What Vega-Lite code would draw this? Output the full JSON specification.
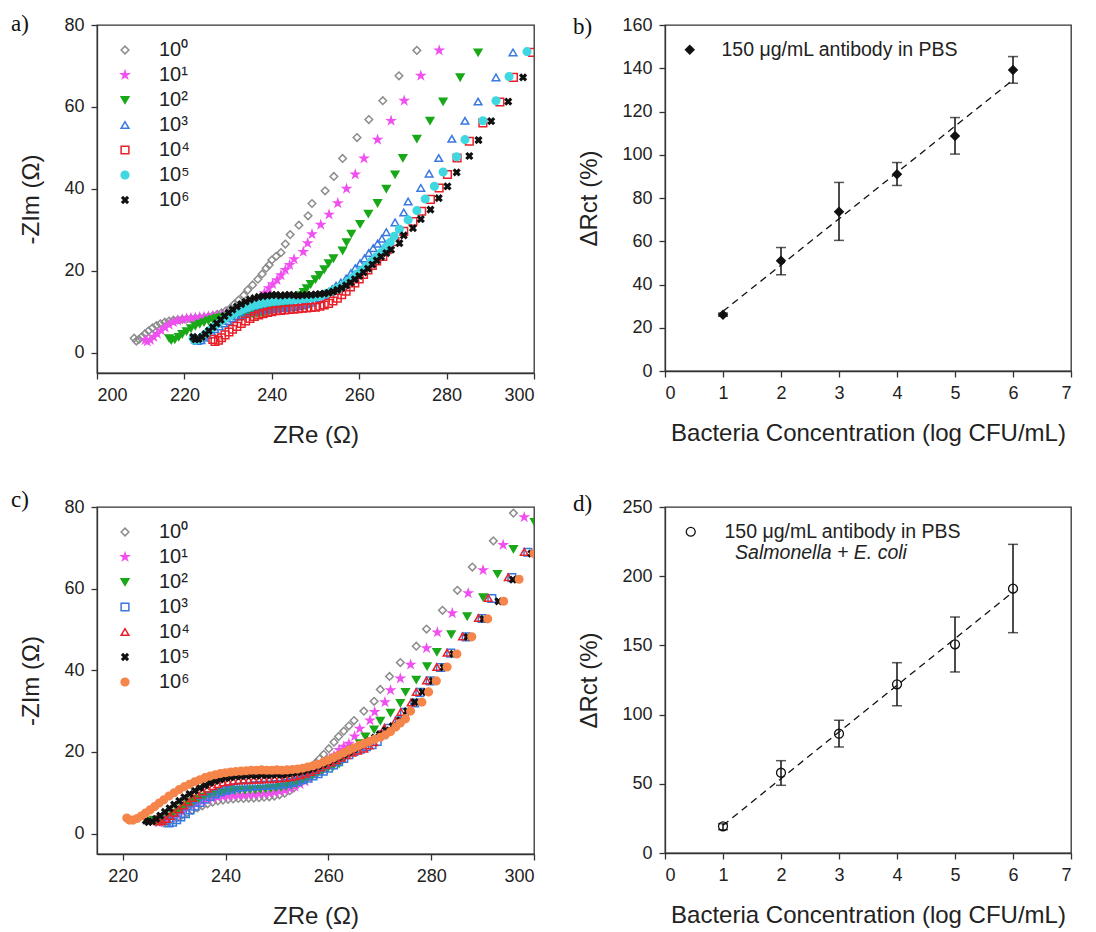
{
"$schema": "https://vega.github.io/schema/vega-lite/v6.json",
"padding": {"left": 10, "top": 12, "right": 5, "bottom": 5},
"config": {
  "font": "Liberation Sans",
  "view": {"stroke": "#333", "strokeWidth": 1.3},
  "axis": {"grid": false, "domainColor": "#333", "domainWidth": 1.3, "tickColor": "#333", "tickWidth": 1.3, "tickSize": 6, "labelColor": "#222", "titleColor": "#222", "labelFont": "Liberation Sans", "titleFont": "Liberation Sans", "labelFontSize": 18, "titleFontSize": 24, "titleFontWeight": "normal", "labelPadding": 7},
  "axisX": {"titlePadding": 19},
  "axisY": {"titlePadding": 20},
  "legend": {"labelFont": "Liberation Sans", "labelColor": "#222", "titleFont": "Liberation Sans", "labelLimit": 0},
  "title": {"font": "Liberation Serif", "fontSize": 23, "fontWeight": "normal", "anchor": "start", "frame": "group", "color": "#111"}
},
"datasets": {
"A": [
{"s":"10⁰","re":208.5,"im":3.5},{"s":"10⁰","re":209,"im":2.8},{"s":"10⁰","re":209.6,"im":3.2},{"s":"10⁰","re":210.3,"im":3.9},{"s":"10⁰","re":211,"im":4.6},{"s":"10⁰","re":211.8,"im":5.3},{"s":"10⁰","re":212.7,"im":6},{"s":"10⁰","re":213.6,"im":6.6},{"s":"10⁰","re":214.5,"im":7},{"s":"10⁰","re":215.5,"im":7.4},{"s":"10⁰","re":216.5,"im":7.7},{"s":"10⁰","re":217.5,"im":7.9},{"s":"10⁰","re":218.5,"im":8},{"s":"10⁰","re":219.5,"im":8.1},{"s":"10⁰","re":220.5,"im":8.2},{"s":"10⁰","re":221.5,"im":8.3},{"s":"10⁰","re":222.5,"im":8.4},{"s":"10⁰","re":223.5,"im":8.5},{"s":"10⁰","re":224.5,"im":8.6},{"s":"10⁰","re":225.5,"im":8.8},{"s":"10⁰","re":226.5,"im":9},{"s":"10⁰","re":227.5,"im":9.3},{"s":"10⁰","re":228.5,"im":9.7},{"s":"10⁰","re":229.5,"im":10.2},{"s":"10⁰","re":230.5,"im":10.8},{"s":"10⁰","re":231.4,"im":11.8},{"s":"10⁰","re":232.4,"im":12.8},{"s":"10⁰","re":233.6,"im":14},{"s":"10⁰","re":234.5,"im":15.3},{"s":"10⁰","re":235.6,"im":16.5},{"s":"10⁰","re":236.8,"im":17.9},{"s":"10⁰","re":237.8,"im":19.2},{"s":"10⁰","re":238.7,"im":20.6},{"s":"10⁰","re":239.4,"im":21.4},{"s":"10⁰","re":240,"im":22.6},{"s":"10⁰","re":241,"im":23.5},{"s":"10⁰","re":242.1,"im":24.4},{"s":"10⁰","re":243.1,"im":26.5},{"s":"10⁰","re":244.2,"im":28.8},{"s":"10⁰","re":246.2,"im":31.1},{"s":"10⁰","re":248.3,"im":33.4},{"s":"10⁰","re":249.2,"im":36.4},{"s":"10⁰","re":252.2,"im":39.5},{"s":"10⁰","re":254.2,"im":43},{"s":"10⁰","re":256.2,"im":47.4},{"s":"10⁰","re":259.5,"im":52.5},{"s":"10⁰","re":262.2,"im":56.9},{"s":"10⁰","re":265.4,"im":61.5},{"s":"10⁰","re":269.1,"im":67.6},{"s":"10⁰","re":273.2,"im":73.8},
{"s":"10¹","re":211,"im":3},{"s":"10¹","re":211.5,"im":2.7},{"s":"10¹","re":212.2,"im":3.1},{"s":"10¹","re":213,"im":3.8},{"s":"10¹","re":213.8,"im":4.6},{"s":"10¹","re":214.7,"im":5.4},{"s":"10¹","re":215.6,"im":6.1},{"s":"10¹","re":216.5,"im":6.8},{"s":"10¹","re":217.5,"im":7.4},{"s":"10¹","re":218.5,"im":7.8},{"s":"10¹","re":219.5,"im":8.1},{"s":"10¹","re":220.5,"im":8.3},{"s":"10¹","re":221.5,"im":8.4},{"s":"10¹","re":222.5,"im":8.5},{"s":"10¹","re":223.5,"im":8.6},{"s":"10¹","re":224.5,"im":8.7},{"s":"10¹","re":225.5,"im":8.8},{"s":"10¹","re":226.5,"im":8.9},{"s":"10¹","re":227.5,"im":9},{"s":"10¹","re":228.5,"im":9.2},{"s":"10¹","re":229.5,"im":9.4},{"s":"10¹","re":230.5,"im":9.6},{"s":"10¹","re":231.5,"im":9.9},{"s":"10¹","re":232.5,"im":10.2},{"s":"10¹","re":233.5,"im":10.5},{"s":"10¹","re":234.8,"im":10.8},{"s":"10¹","re":236,"im":11.2},{"s":"10¹","re":237.1,"im":12.8},{"s":"10¹","re":238.3,"im":14.5},{"s":"10¹","re":239.3,"im":15.7},{"s":"10¹","re":240.2,"im":16.7},{"s":"10¹","re":241.2,"im":17.7},{"s":"10¹","re":242.1,"im":18.9},{"s":"10¹","re":243.1,"im":20.2},{"s":"10¹","re":244.1,"im":21.4},{"s":"10¹","re":245.1,"im":22.8},{"s":"10¹","re":247.2,"im":24.6},{"s":"10¹","re":248.2,"im":26.7},{"s":"10¹","re":249.2,"im":28.9},{"s":"10¹","re":251.2,"im":31.2},{"s":"10¹","re":253.1,"im":33.7},{"s":"10¹","re":255.1,"im":36.5},{"s":"10¹","re":257.1,"im":40},{"s":"10¹","re":259.1,"im":43.5},{"s":"10¹","re":261.1,"im":47.4},{"s":"10¹","re":264.2,"im":52},{"s":"10¹","re":267.3,"im":56.6},{"s":"10¹","re":270.3,"im":61.5},{"s":"10¹","re":274.1,"im":67.6},{"s":"10¹","re":278.3,"im":73.8},
{"s":"10²","re":216.5,"im":3.5},{"s":"10²","re":217,"im":3},{"s":"10²","re":217.8,"im":3.2},{"s":"10²","re":218.7,"im":3.8},{"s":"10²","re":219.5,"im":4.5},{"s":"10²","re":220.5,"im":5.2},{"s":"10²","re":221.5,"im":5.9},{"s":"10²","re":222.5,"im":6.5},{"s":"10²","re":223.5,"im":7},{"s":"10²","re":224.5,"im":7.4},{"s":"10²","re":225.5,"im":7.8},{"s":"10²","re":226.5,"im":8.1},{"s":"10²","re":227.5,"im":8.4},{"s":"10²","re":228.5,"im":8.6},{"s":"10²","re":229.5,"im":8.8},{"s":"10²","re":230.5,"im":9},{"s":"10²","re":231.5,"im":9.1},{"s":"10²","re":232.5,"im":9.2},{"s":"10²","re":233.5,"im":9.3},{"s":"10²","re":234.5,"im":9.4},{"s":"10²","re":235.5,"im":9.5},{"s":"10²","re":236.5,"im":9.6},{"s":"10²","re":237.5,"im":9.8},{"s":"10²","re":238.5,"im":10},{"s":"10²","re":239.5,"im":10.3},{"s":"10²","re":240.5,"im":10.6},{"s":"10²","re":241.5,"im":11},{"s":"10²","re":242.5,"im":11.4},{"s":"10²","re":243.5,"im":11.9},{"s":"10²","re":244.5,"im":12.5},{"s":"10²","re":245.5,"im":13.2},{"s":"10²","re":246.5,"im":14},{"s":"10²","re":247.3,"im":14.8},{"s":"10²","re":248,"im":15.7},{"s":"10²","re":248.9,"im":16.7},{"s":"10²","re":250,"im":17.9},{"s":"10²","re":250.9,"im":18.9},{"s":"10²","re":252,"im":20.3},{"s":"10²","re":253,"im":21.8},{"s":"10²","re":254.1,"im":23},{"s":"10²","re":256.2,"im":24.9},{"s":"10²","re":257.1,"im":26.9},{"s":"10²","re":258.2,"im":29},{"s":"10²","re":260.2,"im":31.4},{"s":"10²","re":262.1,"im":33.9},{"s":"10²","re":264.2,"im":36.5},{"s":"10²","re":266.2,"im":40},{"s":"10²","re":268.2,"im":43.5},{"s":"10²","re":270,"im":47.5},{"s":"10²","re":273.2,"im":52.2},{"s":"10²","re":276.2,"im":56.6},{"s":"10²","re":279.2,"im":61.3},{"s":"10²","re":283.1,"im":67.2},{"s":"10²","re":287.2,"im":73.3},
{"s":"10³","re":222.5,"im":3.2},{"s":"10³","re":223,"im":2.8},{"s":"10³","re":223.8,"im":3},{"s":"10³","re":224.5,"im":3.6},{"s":"10³","re":225.3,"im":4.3},{"s":"10³","re":226.2,"im":5},{"s":"10³","re":227,"im":5.7},{"s":"10³","re":228,"im":6.4},{"s":"10³","re":229,"im":7.1},{"s":"10³","re":230,"im":7.7},{"s":"10³","re":231,"im":8.3},{"s":"10³","re":232,"im":8.8},{"s":"10³","re":233,"im":9.2},{"s":"10³","re":234,"im":9.6},{"s":"10³","re":235,"im":9.9},{"s":"10³","re":236,"im":10.1},{"s":"10³","re":237,"im":10.3},{"s":"10³","re":238,"im":10.4},{"s":"10³","re":239,"im":10.5},{"s":"10³","re":240,"im":10.6},{"s":"10³","re":241,"im":10.7},{"s":"10³","re":242,"im":10.8},{"s":"10³","re":243,"im":10.9},{"s":"10³","re":244,"im":11},{"s":"10³","re":245,"im":11.1},{"s":"10³","re":246,"im":11.3},{"s":"10³","re":247,"im":11.5},{"s":"10³","re":248,"im":11.8},{"s":"10³","re":249,"im":12.2},{"s":"10³","re":250,"im":12.7},{"s":"10³","re":251,"im":13.3},{"s":"10³","re":252,"im":14},{"s":"10³","re":253,"im":14.8},{"s":"10³","re":253.8,"im":15.5},{"s":"10³","re":254.7,"im":16.3},{"s":"10³","re":255.8,"im":17.1},{"s":"10³","re":257,"im":18.1},{"s":"10³","re":258.1,"im":19.4},{"s":"10³","re":259.1,"im":20.6},{"s":"10³","re":260.2,"im":21.8},{"s":"10³","re":261.2,"im":23},{"s":"10³","re":262.2,"im":24.3},{"s":"10³","re":263.2,"im":25.5},{"s":"10³","re":264.2,"im":26.6},{"s":"10³","re":265.2,"im":27.8},{"s":"10³","re":266.2,"im":29.4},{"s":"10³","re":268.2,"im":31.8},{"s":"10³","re":270.2,"im":34.2},{"s":"10³","re":271.2,"im":36.9},{"s":"10³","re":274.1,"im":40.2},{"s":"10³","re":276,"im":43.7},{"s":"10³","re":278.2,"im":47.5},{"s":"10³","re":281.2,"im":52.2},{"s":"10³","re":284.2,"im":56.6},{"s":"10³","re":287.2,"im":61.3},{"s":"10³","re":291.3,"im":67.2},{"s":"10³","re":295.2,"im":73.3},
{"s":"10⁴","re":226.5,"im":3.2},{"s":"10⁴","re":227,"im":2.7},{"s":"10⁴","re":227.8,"im":3},{"s":"10⁴","re":228.5,"im":3.6},{"s":"10⁴","re":229.3,"im":4.3},{"s":"10⁴","re":230.2,"im":5},{"s":"10⁴","re":231,"im":5.7},{"s":"10⁴","re":232,"im":6.4},{"s":"10⁴","re":233,"im":7.1},{"s":"10⁴","re":234,"im":7.7},{"s":"10⁴","re":235,"im":8.3},{"s":"10⁴","re":236,"im":8.8},{"s":"10⁴","re":237,"im":9.2},{"s":"10⁴","re":238,"im":9.5},{"s":"10⁴","re":239,"im":9.8},{"s":"10⁴","re":240,"im":10},{"s":"10⁴","re":241,"im":10.2},{"s":"10⁴","re":242,"im":10.3},{"s":"10⁴","re":243,"im":10.4},{"s":"10⁴","re":244,"im":10.5},{"s":"10⁴","re":245,"im":10.6},{"s":"10⁴","re":246,"im":10.7},{"s":"10⁴","re":247,"im":10.8},{"s":"10⁴","re":248,"im":10.9},{"s":"10⁴","re":249,"im":11},{"s":"10⁴","re":250,"im":11.1},{"s":"10⁴","re":251,"im":11.3},{"s":"10⁴","re":252,"im":11.6},{"s":"10⁴","re":253,"im":12},{"s":"10⁴","re":254,"im":12.6},{"s":"10⁴","re":255,"im":13.3},{"s":"10⁴","re":256,"im":14.1},{"s":"10⁴","re":257,"im":15},{"s":"10⁴","re":258,"im":16},{"s":"10⁴","re":259,"im":17},{"s":"10⁴","re":260,"im":18},{"s":"10⁴","re":261,"im":19.1},{"s":"10⁴","re":262,"im":20.2},{"s":"10⁴","re":263,"im":21.3},{"s":"10⁴","re":264,"im":22.4},{"s":"10⁴","re":265.4,"im":23.5},{"s":"10⁴","re":266.4,"im":25.1},{"s":"10⁴","re":268.2,"im":27.1},{"s":"10⁴","re":270.2,"im":29.6},{"s":"10⁴","re":272.3,"im":32},{"s":"10⁴","re":274.3,"im":34.5},{"s":"10⁴","re":276.3,"im":37.4},{"s":"10⁴","re":278.3,"im":40.2},{"s":"10⁴","re":280.2,"im":43.5},{"s":"10⁴","re":282.4,"im":47.5},{"s":"10⁴","re":285.2,"im":51.6},{"s":"10⁴","re":288.3,"im":56.1},{"s":"10⁴","re":292.2,"im":61.2},{"s":"10⁴","re":295.3,"im":67.2},{"s":"10⁴","re":299.7,"im":73.3},
{"s":"10⁵","re":222,"im":3.5},{"s":"10⁵","re":222.5,"im":3},{"s":"10⁵","re":223.2,"im":3.2},{"s":"10⁵","re":224,"im":3.8},{"s":"10⁵","re":224.8,"im":4.5},{"s":"10⁵","re":225.6,"im":5.3},{"s":"10⁵","re":226.5,"im":6.1},{"s":"10⁵","re":227.5,"im":6.9},{"s":"10⁵","re":228.5,"im":7.7},{"s":"10⁵","re":229.5,"im":8.4},{"s":"10⁵","re":230.5,"im":9},{"s":"10⁵","re":231.5,"im":9.6},{"s":"10⁵","re":232.5,"im":10.1},{"s":"10⁵","re":233.5,"im":10.6},{"s":"10⁵","re":234.5,"im":11},{"s":"10⁵","re":235.5,"im":11.4},{"s":"10⁵","re":236.5,"im":11.7},{"s":"10⁵","re":237.5,"im":12},{"s":"10⁵","re":238.5,"im":12.2},{"s":"10⁵","re":239.5,"im":12.4},{"s":"10⁵","re":240.5,"im":12.5},{"s":"10⁵","re":241.5,"im":12.6},{"s":"10⁵","re":242.5,"im":12.7},{"s":"10⁵","re":243.5,"im":12.8},{"s":"10⁵","re":244.5,"im":12.9},{"s":"10⁵","re":245.5,"im":13},{"s":"10⁵","re":246.5,"im":13.1},{"s":"10⁵","re":247.5,"im":13.2},{"s":"10⁵","re":248.5,"im":13.3},{"s":"10⁵","re":249.5,"im":13.5},{"s":"10⁵","re":250.5,"im":13.7},{"s":"10⁵","re":251.5,"im":14},{"s":"10⁵","re":252.5,"im":14.4},{"s":"10⁵","re":253.5,"im":14.9},{"s":"10⁵","re":254.5,"im":15.4},{"s":"10⁵","re":255.5,"im":15.9},{"s":"10⁵","re":256.5,"im":16.6},{"s":"10⁵","re":257.5,"im":17.4},{"s":"10⁵","re":258.5,"im":18.3},{"s":"10⁵","re":259.5,"im":19.2},{"s":"10⁵","re":260.5,"im":20},{"s":"10⁵","re":261.6,"im":21},{"s":"10⁵","re":262.7,"im":22.2},{"s":"10⁵","re":263.8,"im":23.3},{"s":"10⁵","re":265,"im":24.4},{"s":"10⁵","re":266.1,"im":25.7},{"s":"10⁵","re":267.1,"im":26.9},{"s":"10⁵","re":268,"im":28.4},{"s":"10⁵","re":269.2,"im":30.1},{"s":"10⁵","re":271.2,"im":32.4},{"s":"10⁵","re":273.2,"im":34.7},{"s":"10⁵","re":275.1,"im":37.5},{"s":"10⁵","re":277.2,"im":40.6},{"s":"10⁵","re":279.2,"im":44.1},{"s":"10⁵","re":282.3,"im":47.8},{"s":"10⁵","re":284.2,"im":52},{"s":"10⁵","re":288.3,"im":56.6},{"s":"10⁵","re":291.3,"im":61.5},{"s":"10⁵","re":294.3,"im":67.4},{"s":"10⁵","re":298.4,"im":73.5},
{"s":"10⁶","re":222,"im":3.8},{"s":"10⁶","re":222.5,"im":3.2},{"s":"10⁶","re":223.2,"im":3.3},{"s":"10⁶","re":224,"im":3.8},{"s":"10⁶","re":224.8,"im":4.5},{"s":"10⁶","re":225.6,"im":5.3},{"s":"10⁶","re":226.5,"im":6.2},{"s":"10⁶","re":227.4,"im":7.1},{"s":"10⁶","re":228.3,"im":8},{"s":"10⁶","re":229.2,"im":8.9},{"s":"10⁶","re":230.1,"im":9.7},{"s":"10⁶","re":231,"im":10.5},{"s":"10⁶","re":232,"im":11.2},{"s":"10⁶","re":233,"im":11.8},{"s":"10⁶","re":234,"im":12.4},{"s":"10⁶","re":235,"im":12.9},{"s":"10⁶","re":236,"im":13.3},{"s":"10⁶","re":237,"im":13.6},{"s":"10⁶","re":238,"im":13.8},{"s":"10⁶","re":239,"im":13.9},{"s":"10⁶","re":240,"im":14},{"s":"10⁶","re":241,"im":14.1},{"s":"10⁶","re":242,"im":13.9},{"s":"10⁶","re":243,"im":14},{"s":"10⁶","re":244,"im":14.1},{"s":"10⁶","re":245,"im":14},{"s":"10⁶","re":246,"im":13.9},{"s":"10⁶","re":247,"im":14},{"s":"10⁶","re":248,"im":14.1},{"s":"10⁶","re":249,"im":14.1},{"s":"10⁶","re":250,"im":14.2},{"s":"10⁶","re":251,"im":14.3},{"s":"10⁶","re":252,"im":14.4},{"s":"10⁶","re":253,"im":14.6},{"s":"10⁶","re":254,"im":14.9},{"s":"10⁶","re":255,"im":15.3},{"s":"10⁶","re":256,"im":15.8},{"s":"10⁶","re":257,"im":16.4},{"s":"10⁶","re":258,"im":17.1},{"s":"10⁶","re":259,"im":17.9},{"s":"10⁶","re":260,"im":18.7},{"s":"10⁶","re":261,"im":19.6},{"s":"10⁶","re":262,"im":20.5},{"s":"10⁶","re":263,"im":21.5},{"s":"10⁶","re":264,"im":22.5},{"s":"10⁶","re":265,"im":23.4},{"s":"10⁶","re":266.2,"im":24.3},{"s":"10⁶","re":267.3,"im":25.1},{"s":"10⁶","re":269.2,"im":26.7},{"s":"10⁶","re":270.2,"im":28.6},{"s":"10⁶","re":272.3,"im":30.4},{"s":"10⁶","re":274.1,"im":32.6},{"s":"10⁶","re":276.3,"im":34.9},{"s":"10⁶","re":278.2,"im":37.7},{"s":"10⁶","re":280.2,"im":40.6},{"s":"10⁶","re":282.3,"im":44},{"s":"10⁶","re":285.2,"im":48},{"s":"10⁶","re":287.3,"im":51.9},{"s":"10⁶","re":290.2,"im":56.5},{"s":"10⁶","re":294.1,"im":61.3},{"s":"10⁶","re":297.5,"im":67.2}
],
"C": [
{"s":"10⁰","re":227.5,"im":3},{"s":"10⁰","re":228,"im":2.6},{"s":"10⁰","re":228.8,"im":2.8},{"s":"10⁰","re":229.6,"im":3.3},{"s":"10⁰","re":230.5,"im":3.9},{"s":"10⁰","re":231.5,"im":4.5},{"s":"10⁰","re":232.5,"im":5.1},{"s":"10⁰","re":233.5,"im":5.7},{"s":"10⁰","re":234.5,"im":6.3},{"s":"10⁰","re":235.5,"im":6.8},{"s":"10⁰","re":236.5,"im":7.3},{"s":"10⁰","re":237.5,"im":7.7},{"s":"10⁰","re":238.5,"im":8},{"s":"10⁰","re":239.5,"im":8.2},{"s":"10⁰","re":240.5,"im":8.4},{"s":"10⁰","re":241.5,"im":8.5},{"s":"10⁰","re":242.5,"im":8.6},{"s":"10⁰","re":243.5,"im":8.6},{"s":"10⁰","re":244.5,"im":8.7},{"s":"10⁰","re":245.5,"im":8.7},{"s":"10⁰","re":246.5,"im":8.8},{"s":"10⁰","re":247.5,"im":8.9},{"s":"10⁰","re":248.5,"im":9},{"s":"10⁰","re":249.5,"im":9.2},{"s":"10⁰","re":250.5,"im":9.5},{"s":"10⁰","re":251.5,"im":9.9},{"s":"10⁰","re":252.5,"im":10.5},{"s":"10⁰","re":253.3,"im":11.2},{"s":"10⁰","re":254,"im":12},{"s":"10⁰","re":254.7,"im":12.9},{"s":"10⁰","re":255.4,"im":13.9},{"s":"10⁰","re":256,"im":14.9},{"s":"10⁰","re":256.8,"im":16.1},{"s":"10⁰","re":257.5,"im":17.3},{"s":"10⁰","re":258.3,"im":18.3},{"s":"10⁰","re":259.1,"im":19.4},{"s":"10⁰","re":260.1,"im":20.8},{"s":"10⁰","re":261.1,"im":22.4},{"s":"10⁰","re":262,"im":23.8},{"s":"10⁰","re":263,"im":25.1},{"s":"10⁰","re":264,"im":26.4},{"s":"10⁰","re":265,"im":27.7},{"s":"10⁰","re":266.9,"im":30},{"s":"10⁰","re":268.9,"im":32.4},{"s":"10⁰","re":270.1,"im":35.3},{"s":"10⁰","re":271.9,"im":38.5},{"s":"10⁰","re":274,"im":41.9},{"s":"10⁰","re":277.1,"im":45.9},{"s":"10⁰","re":279.1,"im":50.1},{"s":"10⁰","re":282.2,"im":54.7},{"s":"10⁰","re":285.1,"im":59.6},{"s":"10⁰","re":288,"im":65.3},{"s":"10⁰","re":292.1,"im":71.7},{"s":"10⁰","re":296,"im":78.5},
{"s":"10¹","re":226.5,"im":3.2},{"s":"10¹","re":227,"im":2.7},{"s":"10¹","re":227.8,"im":2.9},{"s":"10¹","re":228.6,"im":3.4},{"s":"10¹","re":229.5,"im":4},{"s":"10¹","re":230.5,"im":4.7},{"s":"10¹","re":231.5,"im":5.4},{"s":"10¹","re":232.5,"im":6.1},{"s":"10¹","re":233.5,"im":6.8},{"s":"10¹","re":234.5,"im":7.4},{"s":"10¹","re":235.5,"im":7.9},{"s":"10¹","re":236.5,"im":8.3},{"s":"10¹","re":237.5,"im":8.6},{"s":"10¹","re":238.5,"im":8.9},{"s":"10¹","re":239.5,"im":9.1},{"s":"10¹","re":240.5,"im":9.2},{"s":"10¹","re":241.5,"im":9.3},{"s":"10¹","re":242.5,"im":9.4},{"s":"10¹","re":243.5,"im":9.4},{"s":"10¹","re":244.5,"im":9.5},{"s":"10¹","re":245.5,"im":9.6},{"s":"10¹","re":246.5,"im":9.7},{"s":"10¹","re":247.5,"im":9.8},{"s":"10¹","re":248.5,"im":9.9},{"s":"10¹","re":249.5,"im":10.1},{"s":"10¹","re":250.5,"im":10.3},{"s":"10¹","re":251.5,"im":10.6},{"s":"10¹","re":252.5,"im":11},{"s":"10¹","re":253.5,"im":11.5},{"s":"10¹","re":254.5,"im":12.1},{"s":"10¹","re":255.5,"im":12.8},{"s":"10¹","re":256.3,"im":13.6},{"s":"10¹","re":257.1,"im":14.5},{"s":"10¹","re":257.9,"im":15.4},{"s":"10¹","re":258.7,"im":16.4},{"s":"10¹","re":259.5,"im":17.4},{"s":"10¹","re":260.3,"im":18.3},{"s":"10¹","re":261.1,"im":19.1},{"s":"10¹","re":262.1,"im":20.5},{"s":"10¹","re":263,"im":21.3},{"s":"10¹","re":264,"im":22},{"s":"10¹","re":265.1,"im":23.8},{"s":"10¹","re":266.1,"im":25.7},{"s":"10¹","re":268.1,"im":27.7},{"s":"10¹","re":269,"im":29.8},{"s":"10¹","re":271,"im":32.2},{"s":"10¹","re":272.1,"im":35.1},{"s":"10¹","re":274,"im":38},{"s":"10¹","re":276,"im":41.4},{"s":"10¹","re":279.1,"im":45.4},{"s":"10¹","re":281.2,"im":49.3},{"s":"10¹","re":284.1,"im":54},{"s":"10¹","re":287.2,"im":58.9},{"s":"10¹","re":290.1,"im":64.5},{"s":"10¹","re":294,"im":70.7},{"s":"10¹","re":298.1,"im":77.5},
{"s":"10²","re":226,"im":3.4},{"s":"10²","re":226.5,"im":2.9},{"s":"10²","re":227.2,"im":3},{"s":"10²","re":228,"im":3.5},{"s":"10²","re":228.9,"im":4.2},{"s":"10²","re":229.8,"im":4.9},{"s":"10²","re":230.8,"im":5.7},{"s":"10²","re":231.8,"im":6.5},{"s":"10²","re":232.8,"im":7.2},{"s":"10²","re":233.8,"im":7.9},{"s":"10²","re":234.8,"im":8.5},{"s":"10²","re":235.8,"im":9},{"s":"10²","re":236.8,"im":9.4},{"s":"10²","re":237.8,"im":9.8},{"s":"10²","re":238.8,"im":10.1},{"s":"10²","re":239.8,"im":10.3},{"s":"10²","re":240.8,"im":10.5},{"s":"10²","re":241.8,"im":10.6},{"s":"10²","re":242.8,"im":10.7},{"s":"10²","re":243.8,"im":10.7},{"s":"10²","re":244.8,"im":10.8},{"s":"10²","re":245.8,"im":10.8},{"s":"10²","re":246.8,"im":10.9},{"s":"10²","re":247.8,"im":11},{"s":"10²","re":248.8,"im":11.1},{"s":"10²","re":249.8,"im":11.2},{"s":"10²","re":250.8,"im":11.4},{"s":"10²","re":251.8,"im":11.6},{"s":"10²","re":252.8,"im":11.9},{"s":"10²","re":253.8,"im":12.3},{"s":"10²","re":254.8,"im":12.8},{"s":"10²","re":255.8,"im":13.4},{"s":"10²","re":256.8,"im":14},{"s":"10²","re":257.8,"im":14.6},{"s":"10²","re":258.8,"im":15.2},{"s":"10²","re":259.8,"im":15.8},{"s":"10²","re":260.9,"im":16.4},{"s":"10²","re":262.1,"im":17.1},{"s":"10²","re":263,"im":18.3},{"s":"10²","re":264.1,"im":19.6},{"s":"10²","re":265.1,"im":20.8},{"s":"10²","re":266.1,"im":22.1},{"s":"10²","re":267.2,"im":23.8},{"s":"10²","re":268.9,"im":25.5},{"s":"10²","re":270.1,"im":27.6},{"s":"10²","re":272.1,"im":29.6},{"s":"10²","re":274,"im":32},{"s":"10²","re":275,"im":34.7},{"s":"10²","re":277.1,"im":37.7},{"s":"10²","re":279.2,"im":41},{"s":"10²","re":281.1,"im":44.5},{"s":"10²","re":283.9,"im":48.8},{"s":"10²","re":287,"im":53.2},{"s":"10²","re":290.1,"im":57.9},{"s":"10²","re":292.9,"im":63.6},{"s":"10²","re":296,"im":69.7},{"s":"10²","re":300.1,"im":76.3},
{"s":"10³","re":228.5,"im":3.2},{"s":"10³","re":229,"im":2.6},{"s":"10³","re":229.7,"im":2.8},{"s":"10³","re":230.5,"im":3.4},{"s":"10³","re":231.3,"im":4.1},{"s":"10³","re":232.2,"im":4.9},{"s":"10³","re":233.1,"im":5.8},{"s":"10³","re":234,"im":6.7},{"s":"10³","re":235,"im":7.6},{"s":"10³","re":236,"im":8.4},{"s":"10³","re":237,"im":9.1},{"s":"10³","re":238,"im":9.7},{"s":"10³","re":239,"im":10.2},{"s":"10³","re":240,"im":10.6},{"s":"10³","re":241,"im":10.9},{"s":"10³","re":242,"im":11.2},{"s":"10³","re":243,"im":11.4},{"s":"10³","re":244,"im":11.5},{"s":"10³","re":245,"im":11.6},{"s":"10³","re":246,"im":11.7},{"s":"10³","re":247,"im":11.8},{"s":"10³","re":248,"im":11.8},{"s":"10³","re":249,"im":11.9},{"s":"10³","re":250,"im":12},{"s":"10³","re":251,"im":12.1},{"s":"10³","re":252,"im":12.3},{"s":"10³","re":253,"im":12.5},{"s":"10³","re":254,"im":12.8},{"s":"10³","re":255,"im":13.2},{"s":"10³","re":256,"im":13.6},{"s":"10³","re":257,"im":14.1},{"s":"10³","re":258,"im":14.7},{"s":"10³","re":259,"im":15.3},{"s":"10³","re":260,"im":16},{"s":"10³","re":261,"im":16.8},{"s":"10³","re":262,"im":17.6},{"s":"10³","re":263,"im":18.4},{"s":"10³","re":264,"im":19.3},{"s":"10³","re":265,"im":20.1},{"s":"10³","re":266.2,"im":20.7},{"s":"10³","re":267.4,"im":21.3},{"s":"10³","re":268.5,"im":21.8},{"s":"10³","re":269.5,"im":22.6},{"s":"10³","re":270.6,"im":24.2},{"s":"10³","re":271.7,"im":25.8},{"s":"10³","re":273.8,"im":27.6},{"s":"10³","re":274.8,"im":29.7},{"s":"10³","re":276.8,"im":32},{"s":"10³","re":277.8,"im":34.6},{"s":"10³","re":279.8,"im":37.4},{"s":"10³","re":281.8,"im":40.7},{"s":"10³","re":283.8,"im":44.2},{"s":"10³","re":286.8,"im":48.2},{"s":"10³","re":289.9,"im":52.7},{"s":"10³","re":291.8,"im":57.6},{"s":"10³","re":295.7,"im":62.7},{"s":"10³","re":298.8,"im":68.9},
{"s":"10⁴","re":226.5,"im":3.5},{"s":"10⁴","re":227,"im":3},{"s":"10⁴","re":227.7,"im":3.1},{"s":"10⁴","re":228.4,"im":3.6},{"s":"10⁴","re":229.2,"im":4.3},{"s":"10⁴","re":230,"im":5.1},{"s":"10⁴","re":230.9,"im":6},{"s":"10⁴","re":231.8,"im":6.9},{"s":"10⁴","re":232.7,"im":7.8},{"s":"10⁴","re":233.6,"im":8.7},{"s":"10⁴","re":234.5,"im":9.5},{"s":"10⁴","re":235.5,"im":10.3},{"s":"10⁴","re":236.5,"im":11},{"s":"10⁴","re":237.5,"im":11.6},{"s":"10⁴","re":238.5,"im":12.1},{"s":"10⁴","re":239.5,"im":12.5},{"s":"10⁴","re":240.5,"im":12.7},{"s":"10⁴","re":241.5,"im":12.9},{"s":"10⁴","re":242.5,"im":13},{"s":"10⁴","re":243.5,"im":13.1},{"s":"10⁴","re":244.5,"im":13.1},{"s":"10⁴","re":245.5,"im":13.2},{"s":"10⁴","re":246.5,"im":13.2},{"s":"10⁴","re":247.5,"im":13.3},{"s":"10⁴","re":248.5,"im":13.3},{"s":"10⁴","re":249.5,"im":13.4},{"s":"10⁴","re":250.5,"im":13.5},{"s":"10⁴","re":251.5,"im":13.6},{"s":"10⁴","re":252.5,"im":13.8},{"s":"10⁴","re":253.5,"im":14},{"s":"10⁴","re":254.5,"im":14.3},{"s":"10⁴","re":255.5,"im":14.7},{"s":"10⁴","re":256.5,"im":15.1},{"s":"10⁴","re":257.5,"im":15.6},{"s":"10⁴","re":258.5,"im":16.2},{"s":"10⁴","re":259.5,"im":16.8},{"s":"10⁴","re":260.5,"im":17.4},{"s":"10⁴","re":261.5,"im":18},{"s":"10⁴","re":262.5,"im":18.6},{"s":"10⁴","re":263.5,"im":19.2},{"s":"10⁴","re":264.6,"im":19.8},{"s":"10⁴","re":265.7,"im":20.3},{"s":"10⁴","re":266.9,"im":20.8},{"s":"10⁴","re":267.9,"im":21.6},{"s":"10⁴","re":268.8,"im":22.4},{"s":"10⁴","re":269.9,"im":24.2},{"s":"10⁴","re":270.9,"im":25.9},{"s":"10⁴","re":273.1,"im":27.7},{"s":"10⁴","re":274.1,"im":29.8},{"s":"10⁴","re":276.1,"im":32.1},{"s":"10⁴","re":277.1,"im":34.7},{"s":"10⁴","re":279.1,"im":37.5},{"s":"10⁴","re":281.1,"im":40.8},{"s":"10⁴","re":283.1,"im":44.3},{"s":"10⁴","re":286.1,"im":48.3},{"s":"10⁴","re":289.2,"im":52.8},{"s":"10⁴","re":291.1,"im":57.7},{"s":"10⁴","re":295,"im":62.8},{"s":"10⁴","re":298.1,"im":69},
{"s":"10⁵","re":224.5,"im":3.2},{"s":"10⁵","re":225,"im":2.8},{"s":"10⁵","re":225.7,"im":3},{"s":"10⁵","re":226.5,"im":3.6},{"s":"10⁵","re":227.3,"im":4.4},{"s":"10⁵","re":228.2,"im":5.3},{"s":"10⁵","re":229.1,"im":6.2},{"s":"10⁵","re":230,"im":7.1},{"s":"10⁵","re":231,"im":8},{"s":"10⁵","re":232,"im":8.9},{"s":"10⁵","re":233,"im":9.7},{"s":"10⁵","re":234,"im":10.5},{"s":"10⁵","re":235,"im":11.2},{"s":"10⁵","re":236,"im":11.8},{"s":"10⁵","re":237,"im":12.4},{"s":"10⁵","re":238,"im":12.9},{"s":"10⁵","re":239,"im":13.3},{"s":"10⁵","re":240,"im":13.6},{"s":"10⁵","re":241,"im":13.8},{"s":"10⁵","re":242,"im":14},{"s":"10⁵","re":243,"im":14.1},{"s":"10⁵","re":244,"im":14.2},{"s":"10⁵","re":245,"im":14.3},{"s":"10⁵","re":246,"im":14.2},{"s":"10⁵","re":247,"im":14.4},{"s":"10⁵","re":248,"im":14.3},{"s":"10⁵","re":249,"im":14.4},{"s":"10⁵","re":250,"im":14.5},{"s":"10⁵","re":251,"im":14.4},{"s":"10⁵","re":252,"im":14.6},{"s":"10⁵","re":253,"im":14.8},{"s":"10⁵","re":254,"im":15},{"s":"10⁵","re":255,"im":15.3},{"s":"10⁵","re":256,"im":15.6},{"s":"10⁵","re":257,"im":16},{"s":"10⁵","re":258,"im":16.5},{"s":"10⁵","re":259,"im":17},{"s":"10⁵","re":260,"im":17.6},{"s":"10⁵","re":261,"im":18.2},{"s":"10⁵","re":262,"im":18.8},{"s":"10⁵","re":263,"im":19.4},{"s":"10⁵","re":264,"im":20},{"s":"10⁵","re":265,"im":20.7},{"s":"10⁵","re":266,"im":21.4},{"s":"10⁵","re":267,"im":22.1},{"s":"10⁵","re":268,"im":22.8},{"s":"10⁵","re":269,"im":23.5},{"s":"10⁵","re":270,"im":24.3},{"s":"10⁵","re":271.2,"im":25.3},{"s":"10⁵","re":272.5,"im":26.3},{"s":"10⁵","re":274,"im":27.7},{"s":"10⁵","re":275.3,"im":30},{"s":"10⁵","re":276.8,"im":32.2},{"s":"10⁵","re":278.3,"im":34.7},{"s":"10⁵","re":280.3,"im":37.4},{"s":"10⁵","re":282.4,"im":40.7},{"s":"10⁵","re":284.3,"im":44},{"s":"10⁵","re":287.1,"im":48.2},{"s":"10⁵","re":290.2,"im":52.6},{"s":"10⁵","re":293.1,"im":56.9},{"s":"10⁵","re":295.9,"im":62.2},{"s":"10⁵","re":299.5,"im":68.6},
{"s":"10⁶","re":220.8,"im":3.8},{"s":"10⁶","re":221.3,"im":3.3},{"s":"10⁶","re":222,"im":3.3},{"s":"10⁶","re":222.8,"im":3.7},{"s":"10⁶","re":223.6,"im":4.3},{"s":"10⁶","re":224.4,"im":5},{"s":"10⁶","re":225.3,"im":5.8},{"s":"10⁶","re":226.2,"im":6.6},{"s":"10⁶","re":227.1,"im":7.5},{"s":"10⁶","re":228,"im":8.3},{"s":"10⁶","re":229,"im":9.2},{"s":"10⁶","re":230,"im":10},{"s":"10⁶","re":231,"im":10.8},{"s":"10⁶","re":232,"im":11.5},{"s":"10⁶","re":233,"im":12.1},{"s":"10⁶","re":234,"im":12.7},{"s":"10⁶","re":235,"im":13.2},{"s":"10⁶","re":236,"im":13.7},{"s":"10⁶","re":237,"im":14.1},{"s":"10⁶","re":238,"im":14.4},{"s":"10⁶","re":239,"im":14.7},{"s":"10⁶","re":240,"im":14.9},{"s":"10⁶","re":241,"im":15.1},{"s":"10⁶","re":242,"im":15.2},{"s":"10⁶","re":243,"im":15.3},{"s":"10⁶","re":244,"im":15.4},{"s":"10⁶","re":245,"im":15.5},{"s":"10⁶","re":246,"im":15.5},{"s":"10⁶","re":247,"im":15.6},{"s":"10⁶","re":248,"im":15.5},{"s":"10⁶","re":249,"im":15.5},{"s":"10⁶","re":250,"im":15.6},{"s":"10⁶","re":251,"im":15.5},{"s":"10⁶","re":252,"im":15.6},{"s":"10⁶","re":253,"im":15.7},{"s":"10⁶","re":254,"im":15.8},{"s":"10⁶","re":255,"im":16},{"s":"10⁶","re":256,"im":16.3},{"s":"10⁶","re":257,"im":16.6},{"s":"10⁶","re":258,"im":17},{"s":"10⁶","re":259,"im":17.5},{"s":"10⁶","re":260,"im":18},{"s":"10⁶","re":261,"im":18.6},{"s":"10⁶","re":262,"im":19.2},{"s":"10⁶","re":263,"im":19.8},{"s":"10⁶","re":264,"im":20.4},{"s":"10⁶","re":265,"im":21},{"s":"10⁶","re":266,"im":21.6},{"s":"10⁶","re":267,"im":22.1},{"s":"10⁶","re":268,"im":22.6},{"s":"10⁶","re":269,"im":23.1},{"s":"10⁶","re":270.1,"im":23.6},{"s":"10⁶","re":271.1,"im":24.2},{"s":"10⁶","re":272.1,"im":25},{"s":"10⁶","re":273.1,"im":26.1},{"s":"10⁶","re":274,"im":27.1},{"s":"10⁶","re":275,"im":28.1},{"s":"10⁶","re":276,"im":30},{"s":"10⁶","re":278.2,"im":32.2},{"s":"10⁶","re":279.5,"im":34.7},{"s":"10⁶","re":281,"im":37.4},{"s":"10⁶","re":283.1,"im":40.8},{"s":"10⁶","re":285,"im":44},{"s":"10⁶","re":287.9,"im":48.2},{"s":"10⁶","re":291,"im":52.6},{"s":"10⁶","re":294.1,"im":56.9},{"s":"10⁶","re":297.1,"im":62.3},{"s":"10⁶","re":300,"im":68.6}
],
"B": [
{"conc":1,"rct":26,"lo":25.3,"hi":26.8,"lab":"150 μg/mL antibody in PBS"},
{"conc":2,"rct":51,"lo":44.5,"hi":57.1,"lab":"150 μg/mL antibody in PBS"},
{"conc":3,"rct":73.6,"lo":60.4,"hi":87.2,"lab":"150 μg/mL antibody in PBS"},
{"conc":4,"rct":91,"lo":85.8,"hi":96.4,"lab":"150 μg/mL antibody in PBS"},
{"conc":5,"rct":108.7,"lo":100.3,"hi":117.2,"lab":"150 μg/mL antibody in PBS"},
{"conc":6,"rct":139.2,"lo":133.1,"hi":145.4,"lab":"150 μg/mL antibody in PBS"}
],
"BL": [{"conc":1,"rct":27.6},{"conc":6,"rct":134.6}],
"D": [
{"conc":1,"rct":19.3,"lo":16.8,"hi":21.2,"lab":"150 μg/mL antibody in PBS"},
{"conc":2,"rct":58,"lo":48.9,"hi":66.7,"lab":"150 μg/mL antibody in PBS"},
{"conc":3,"rct":86.2,"lo":76.6,"hi":95.9,"lab":"150 μg/mL antibody in PBS"},
{"conc":4,"rct":121.9,"lo":106.4,"hi":137.5,"lab":"150 μg/mL antibody in PBS"},
{"conc":5,"rct":150.8,"lo":130.8,"hi":170.5,"lab":"150 μg/mL antibody in PBS"},
{"conc":6,"rct":191,"lo":159.2,"hi":223,"lab":"150 μg/mL antibody in PBS"}
],
"DL": [{"conc":1,"rct":20},{"conc":6,"rct":188.6}]
},
"columns": 2,
"bounds": "flush",
"spacing": {"row": 134, "column": 131},
"resolve": {"scale": {"x": "independent", "y": "independent", "shape": "independent", "fill": "independent", "stroke": "independent"}, "legend": {"shape": "independent", "fill": "independent", "stroke": "independent"}, "axis": {"x": "independent", "y": "independent"}},
"concat": [
{
 "width": 437, "height": 348,
 "title": {"text": "a)", "dx": -86, "dy": 24},
 "data": {"name": "A"},
 "mark": {"type": "point", "clip": true, "size": 58, "strokeWidth": 1.5, "opacity": 1},
 "encoding": {
  "x": {"field": "re", "type": "quantitative", "scale": {"domain": [200, 300], "nice": false, "zero": false}, "axis": {"values": [200, 220, 240, 260, 280, 300], "title": "ZRe (Ω)"}},
  "y": {"field": "im", "type": "quantitative", "scale": {"domain": [-5, 80], "nice": false, "zero": false}, "axis": {"values": [0, 20, 40, 60, 80], "title": "-ZIm (Ω)"}},
  "shape": {"field": "s", "type": "nominal", "scale": {"domain": ["10⁰","10¹","10²","10³","10⁴","10⁵","10⁶"], "range": ["diamond", "M0,-1L0.225,-0.309L0.951,-0.309L0.363,0.118L0.588,0.809L0,0.382L-0.588,0.809L-0.363,0.118L-0.951,-0.309L-0.225,-0.309Z", "triangle-down", "triangle-up", "square", "circle", "M-0.8,-0.5L-0.5,-0.8L0,-0.3L0.5,-0.8L0.8,-0.5L0.3,0L0.8,0.5L0.5,0.8L0,0.3L-0.5,0.8L-0.8,0.5L-0.3,0Z"]}, "legend": {"title": null, "orient": "none", "legendX": 18, "legendY": 15, "labelFontSize": 20, "symbolSize": 60, "symbolStrokeWidth": 1.5, "rowPadding": 5, "labelOffset": 24, "padding": 0}},
  "fill": {"field": "s", "type": "nominal", "scale": {"domain": ["10⁰","10¹","10²","10³","10⁴","10⁵","10⁶"], "range": ["transparent", "#f050f0", "#18a818", "transparent", "transparent", "#40d8e0", "#111111"]}, "legend": {"title": null, "orient": "none", "legendX": 18, "legendY": 15, "labelFontSize": 20, "symbolSize": 60, "symbolStrokeWidth": 1.5, "rowPadding": 5, "labelOffset": 24, "padding": 0}},
  "stroke": {"field": "s", "type": "nominal", "scale": {"domain": ["10⁰","10¹","10²","10³","10⁴","10⁵","10⁶"], "range": ["#8c8c8c", "#f050f0", "#18a818", "#3a78e0", "#e8202a", "#40d8e0", "#111111"]}, "legend": {"title": null, "orient": "none", "legendX": 18, "legendY": 15, "labelFontSize": 20, "symbolSize": 60, "symbolStrokeWidth": 1.5, "rowPadding": 5, "labelOffset": 24, "padding": 0}}
 }
},
{
 "width": 406, "height": 346,
 "title": {"text": "b)", "dx": -92, "dy": 27},
 "layer": [
  {"data": {"name": "BL"}, "mark": {"type": "line", "color": "#111", "strokeDash": [7, 5], "strokeWidth": 1.3},
   "encoding": {"x": {"field": "conc", "type": "quantitative", "scale": {"domain": [0, 7], "nice": false}, "axis": {"values": [0,1,2,3,4,5,6,7], "title": "Bacteria Concentration (log CFU/mL)"}}, "y": {"field": "rct", "type": "quantitative", "scale": {"domain": [0, 160], "nice": false}, "axis": {"values": [0,20,40,60,80,100,120,140,160], "title": "ΔRct (%)"}}}},
  {"data": {"name": "B"}, "mark": {"type": "errorbar", "ticks": {"size": 10, "thickness": 1.5, "color": "#111"}, "thickness": 1.5, "color": "#111"},
   "encoding": {"x": {"field": "conc", "type": "quantitative", "scale": {"domain": [0, 7], "nice": false}, "axis": {"values": [0,1,2,3,4,5,6,7], "title": "Bacteria Concentration (log CFU/mL)"}}, "y": {"field": "lo", "type": "quantitative", "scale": {"domain": [0, 160], "nice": false}, "axis": {"values": [0,20,40,60,80,100,120,140,160], "title": "ΔRct (%)"}}, "y2": {"field": "hi"}}},
  {"data": {"name": "B"}, "mark": {"type": "point", "filled": true, "color": "#111", "size": 110, "opacity": 1},
   "encoding": {"x": {"field": "conc", "type": "quantitative", "scale": {"domain": [0, 7], "nice": false}, "axis": {"values": [0,1,2,3,4,5,6,7], "title": "Bacteria Concentration (log CFU/mL)"}}, "y": {"field": "rct", "type": "quantitative", "scale": {"domain": [0, 160], "nice": false}, "axis": {"values": [0,20,40,60,80,100,120,140,160], "title": "ΔRct (%)"}},
    "shape": {"field": "lab", "type": "nominal", "scale": {"range": ["diamond"]}, "legend": {"title": null, "orient": "none", "legendX": 15, "legendY": 15, "labelFontSize": 19.5, "labelLimit": 0, "symbolSize": 110, "symbolFillColor": "#111", "symbolStrokeColor": "#111", "labelOffset": 22, "padding": 0}}}}
 ]
},
{
 "width": 437, "height": 347,
 "title": {"text": "c)", "dx": -86, "dy": 18},
 "data": {"name": "C"},
 "mark": {"type": "point", "clip": true, "size": 58, "strokeWidth": 1.5, "opacity": 1},
 "encoding": {
  "x": {"field": "re", "type": "quantitative", "scale": {"domain": [215, 300], "nice": false, "zero": false}, "axis": {"values": [220, 240, 260, 280, 300], "title": "ZRe (Ω)"}},
  "y": {"field": "im", "type": "quantitative", "scale": {"domain": [-5, 80], "nice": false, "zero": false}, "axis": {"values": [0, 20, 40, 60, 80], "title": "-ZIm (Ω)"}},
  "shape": {"field": "s", "type": "nominal", "scale": {"domain": ["10⁰","10¹","10²","10³","10⁴","10⁵","10⁶"], "range": ["diamond", "M0,-1L0.225,-0.309L0.951,-0.309L0.363,0.118L0.588,0.809L0,0.382L-0.588,0.809L-0.363,0.118L-0.951,-0.309L-0.225,-0.309Z", "triangle-down", "square", "triangle-up", "M-0.8,-0.5L-0.5,-0.8L0,-0.3L0.5,-0.8L0.8,-0.5L0.3,0L0.8,0.5L0.5,0.8L0,0.3L-0.5,0.8L-0.8,0.5L-0.3,0Z", "circle"]}, "legend": {"title": null, "orient": "none", "legendX": 18, "legendY": 15, "labelFontSize": 20, "symbolSize": 60, "symbolStrokeWidth": 1.5, "rowPadding": 5, "labelOffset": 24, "padding": 0}},
  "fill": {"field": "s", "type": "nominal", "scale": {"domain": ["10⁰","10¹","10²","10³","10⁴","10⁵","10⁶"], "range": ["transparent", "#f050f0", "#18a818", "transparent", "transparent", "#111111", "#f5854a"]}, "legend": {"title": null, "orient": "none", "legendX": 18, "legendY": 15, "labelFontSize": 20, "symbolSize": 60, "symbolStrokeWidth": 1.5, "rowPadding": 5, "labelOffset": 24, "padding": 0}},
  "stroke": {"field": "s", "type": "nominal", "scale": {"domain": ["10⁰","10¹","10²","10³","10⁴","10⁵","10⁶"], "range": ["#8c8c8c", "#f050f0", "#18a818", "#3a78e0", "#e8202a", "#111111", "#f5854a"]}, "legend": {"title": null, "orient": "none", "legendX": 18, "legendY": 15, "labelFontSize": 20, "symbolSize": 60, "symbolStrokeWidth": 1.5, "rowPadding": 5, "labelOffset": 24, "padding": 0}}
 }
},
{
 "width": 406, "height": 346,
 "title": {"text": "d)", "dx": -92, "dy": 22},
 "layer": [
  {"data": {"name": "DL"}, "mark": {"type": "line", "color": "#111", "strokeDash": [7, 5], "strokeWidth": 1.3},
   "encoding": {"x": {"field": "conc", "type": "quantitative", "scale": {"domain": [0, 7], "nice": false}, "axis": {"values": [0,1,2,3,4,5,6,7], "title": "Bacteria Concentration (log CFU/mL)"}}, "y": {"field": "rct", "type": "quantitative", "scale": {"domain": [0, 250], "nice": false}, "axis": {"values": [0,50,100,150,200,250], "title": "ΔRct (%)"}}}},
  {"data": {"name": "D"}, "mark": {"type": "errorbar", "ticks": {"size": 10, "thickness": 1.5, "color": "#111"}, "thickness": 1.5, "color": "#111"},
   "encoding": {"x": {"field": "conc", "type": "quantitative", "scale": {"domain": [0, 7], "nice": false}, "axis": {"values": [0,1,2,3,4,5,6,7], "title": "Bacteria Concentration (log CFU/mL)"}}, "y": {"field": "lo", "type": "quantitative", "scale": {"domain": [0, 250], "nice": false}, "axis": {"values": [0,50,100,150,200,250], "title": "ΔRct (%)"}}, "y2": {"field": "hi"}}},
  {"data": {"name": "D"}, "mark": {"type": "point", "filled": false, "color": "#111", "size": 80, "strokeWidth": 1.3, "opacity": 1},
   "encoding": {"x": {"field": "conc", "type": "quantitative", "scale": {"domain": [0, 7], "nice": false}, "axis": {"values": [0,1,2,3,4,5,6,7], "title": "Bacteria Concentration (log CFU/mL)"}}, "y": {"field": "rct", "type": "quantitative", "scale": {"domain": [0, 250], "nice": false}, "axis": {"values": [0,50,100,150,200,250], "title": "ΔRct (%)"}},
    "shape": {"field": "lab", "type": "nominal", "scale": {"range": ["circle"]}, "legend": {"title": "\u00a0\u00a0\u00a0\u00a0\u00a0\u00a0\u00a0Salmonella + E. coli", "titleOrient": "bottom", "titleFontStyle": "italic", "titleFontWeight": "normal", "titleFontSize": 19.5, "titleColor": "#222", "titleAnchor": "middle", "titlePadding": 3, "titleLimit": 0, "orient": "none", "legendX": 16, "legendY": 15, "labelFontSize": 19.5, "labelLimit": 0, "symbolSize": 80, "symbolFillColor": "transparent", "symbolStrokeColor": "#111", "symbolStrokeWidth": 1.3, "labelOffset": 24, "padding": 0}}}}
 ]
}
]
}
